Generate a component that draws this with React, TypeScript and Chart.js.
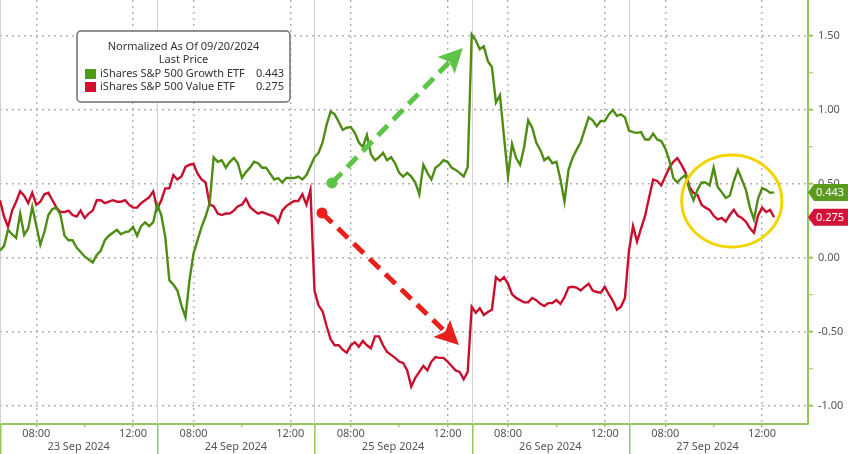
import React, { useEffect, useRef } from 'react';
import { Chart, registerables } from 'chart.js';

Chart.register(...registerables);

// ---- categories / axis labels ----
const dayLabels = ['23 Sep 2024', '24 Sep 2024', '25 Sep 2024', '26 Sep 2024', '27 Sep 2024'];
const sessionOpenHour = 6.5; // sessions drawn 06:30 - 13:00 local
const sessionLength = 6.5; // hours per session
const sampleStepHours = 1 / 6; // one reading every 10 minutes
const timeTickHours = [8, 10, 12];
const timeTickLabels = ['08:00', '', '12:00'];
const yMajorTicks = [-1, -0.5, 0, 0.5, 1, 1.5];
const yMinorTicks = [-0.75, -0.25, 0.25, 0.75, 1.25];
const xMaxHours = 33.4;
const yMin = -1.122;
const yMax = 1.743;

const seriesNames = ['iShares S&P 500 Growth ETF', 'iShares S&P 500 Value ETF'];
const lastPrices = [0.443, 0.275];
const legendTitle = 'Normalized As Of 09/20/2024';
const legendSubtitle = 'Last Price';

// ---- iShares S&P 500 Growth ETF (normalized) ----
const growth23Sep = [0.05, 0.08, 0.19, 0.16, 0.135, 0.30, 0.155, 0.20, 0.345, 0.22, 0.09, 0.175, 0.29, 0.33, 0.34, 0.29, 0.15, 0.12, 0.12, 0.07, 0.04, 0.01, -0.01, -0.03, 0.02, 0.05, 0.12, 0.15, 0.17, 0.19, 0.16, 0.175, 0.18, 0.21, 0.15, 0.215, 0.24, 0.215, 0.24];
const growth24Sep = [0.36, 0.29, 0.14, -0.15, -0.18, -0.22, -0.32, -0.40, -0.15, 0.03, 0.12, 0.21, 0.28, 0.37, 0.68, 0.65, 0.66, 0.61, 0.65, 0.675, 0.64, 0.54, 0.58, 0.61, 0.65, 0.64, 0.61, 0.61, 0.57, 0.53, 0.54, 0.51, 0.54, 0.54, 0.54, 0.55, 0.53, 0.56, 0.62];
const growth25Sep = [0.68, 0.71, 0.78, 0.90, 0.99, 0.97, 0.92, 0.865, 0.88, 0.885, 0.845, 0.78, 0.75, 0.83, 0.70, 0.66, 0.68, 0.71, 0.66, 0.68, 0.64, 0.575, 0.55, 0.575, 0.55, 0.51, 0.43, 0.63, 0.575, 0.53, 0.61, 0.63, 0.66, 0.65, 0.61, 0.595, 0.575, 0.55, 0.615];
const growth26Sep = [1.51, 1.47, 1.41, 1.43, 1.33, 1.29, 1.05, 1.10, 0.82, 0.55, 0.77, 0.675, 0.63, 0.75, 0.93, 0.88, 0.78, 0.73, 0.66, 0.68, 0.64, 0.65, 0.53, 0.38, 0.595, 0.675, 0.73, 0.78, 0.865, 0.95, 0.93, 0.89, 0.925, 0.925, 0.97, 1.0, 0.96, 0.97, 0.95];
const growth27Sep = [0.86, 0.85, 0.845, 0.85, 0.80, 0.80, 0.84, 0.80, 0.79, 0.74, 0.66, 0.54, 0.51, 0.54, 0.56, 0.46, 0.39, 0.46, 0.51, 0.51, 0.49, 0.61, 0.48, 0.445, 0.405, 0.42, 0.52, 0.595, 0.53, 0.46, 0.34, 0.26, 0.40, 0.47, 0.46, 0.44, 0.443];

// ---- iShares S&P 500 Value ETF (normalized) ----
const value23Sep = [0.39, 0.28, 0.21, 0.32, 0.38, 0.45, 0.42, 0.37, 0.44, 0.36, 0.38, 0.43, 0.44, 0.39, 0.34, 0.31, 0.31, 0.32, 0.29, 0.28, 0.32, 0.27, 0.30, 0.32, 0.39, 0.39, 0.37, 0.38, 0.39, 0.38, 0.38, 0.39, 0.36, 0.34, 0.34, 0.37, 0.39, 0.41, 0.45];
const value24Sep = [0.33, 0.39, 0.47, 0.47, 0.56, 0.53, 0.55, 0.615, 0.63, 0.635, 0.57, 0.53, 0.51, 0.36, 0.35, 0.30, 0.29, 0.30, 0.30, 0.32, 0.35, 0.36, 0.40, 0.345, 0.32, 0.30, 0.31, 0.30, 0.29, 0.28, 0.24, 0.32, 0.35, 0.37, 0.385, 0.385, 0.43, 0.36, 0.46];
const value25Sep = [-0.22, -0.32, -0.36, -0.46, -0.55, -0.59, -0.59, -0.62, -0.64, -0.59, -0.57, -0.60, -0.56, -0.59, -0.61, -0.53, -0.53, -0.59, -0.635, -0.655, -0.675, -0.70, -0.71, -0.76, -0.87, -0.81, -0.77, -0.73, -0.76, -0.70, -0.67, -0.675, -0.675, -0.70, -0.73, -0.76, -0.77, -0.82, -0.77];
const value26Sep = [-0.33, -0.37, -0.34, -0.385, -0.365, -0.35, -0.13, -0.155, -0.13, -0.175, -0.245, -0.27, -0.285, -0.30, -0.30, -0.27, -0.285, -0.31, -0.325, -0.305, -0.305, -0.285, -0.31, -0.265, -0.20, -0.195, -0.20, -0.22, -0.195, -0.175, -0.22, -0.23, -0.235, -0.195, -0.245, -0.29, -0.35, -0.33, -0.27];
const value27Sep = [0.05, 0.215, 0.11, 0.20, 0.285, 0.41, 0.53, 0.52, 0.49, 0.55, 0.61, 0.65, 0.675, 0.63, 0.58, 0.48, 0.44, 0.425, 0.36, 0.34, 0.325, 0.285, 0.26, 0.27, 0.245, 0.29, 0.325, 0.285, 0.27, 0.245, 0.20, 0.17, 0.285, 0.34, 0.31, 0.325, 0.275];

const growthByDay = [growth23Sep, growth24Sep, growth25Sep, growth26Sep, growth27Sep];
const valueByDay = [value23Sep, value24Sep, value25Sep, value26Sep, value27Sep];

// ---- annotation anchors, in data units (x: session hours since first open, y: normalized) ----
const greenArrowFrom = [13.72, 0.507];
const greenArrowTo = [19.13, 1.418];
const redArrowFrom = [13.31, 0.304];
const redArrowTo = [18.97, -0.588];
const ellipseCenter = [30.25, 0.385];
const ellipseRadius = [2.07, 0.311];

// ---- styles ----
const FONT = '"Noto Sans", "DejaVu Sans", sans-serif';
const GREEN = '#4e8c14';
const RED = '#c8102e';
const AXIS_GREEN = '#93c85a';
const GRID = '#b0b0b0';

function toPoints(byDay: number[][]) {
  const pts: { x: number; y: number }[] = [];
  byDay.forEach((vals, d) => {
    vals.forEach((v, i) => pts.push({ x: d * sessionLength + i * sampleStepHours, y: v }));
  });
  return pts;
}

const timeTickValues: number[] = [];
const timeTickText: string[] = [];
dayLabels.forEach((_, d) => {
  timeTickHours.forEach((h, k) => {
    timeTickValues.push(d * sessionLength + (h - sessionOpenHour));
    timeTickText.push(timeTickLabels[k]);
  });
});
const dayMidValues = dayLabels.map((_, d) => d * sessionLength + sessionLength / 2);

function drawArrow(ctx: CanvasRenderingContext2D, x1: number, y1: number, x2: number, y2: number, color: string) {
  const ang = Math.atan2(y2 - y1, x2 - x1);
  const headLen = 24;
  const headW = 12;
  const bx = x2 - headLen * Math.cos(ang);
  const by = y2 - headLen * Math.sin(ang);
  ctx.save();
  ctx.strokeStyle = color;
  ctx.fillStyle = color;
  ctx.lineWidth = 5;
  ctx.setLineDash([14, 8]);
  ctx.beginPath();
  ctx.moveTo(x1, y1);
  ctx.lineTo(bx + 4 * Math.cos(ang), by + 4 * Math.sin(ang));
  ctx.stroke();
  ctx.setLineDash([]);
  ctx.beginPath();
  ctx.arc(x1, y1, 5.5, 0, Math.PI * 2);
  ctx.fill();
  ctx.beginPath();
  ctx.moveTo(x2, y2);
  ctx.lineTo(bx + headW * Math.sin(ang), by - headW * Math.cos(ang));
  ctx.lineTo(bx + 5 * Math.cos(ang), by + 5 * Math.sin(ang));
  ctx.lineTo(bx - headW * Math.sin(ang), by + headW * Math.cos(ang));
  ctx.closePath();
  ctx.fill();
  ctx.restore();
}

function drawTag(ctx: CanvasRenderingContext2D, xLeft: number, xRight: number, y: number, text: string, color: string) {
  const h = 17;
  const notch = 6;
  ctx.save();
  ctx.fillStyle = color;
  ctx.beginPath();
  ctx.moveTo(xLeft, y);
  ctx.lineTo(xLeft + notch, y - h / 2);
  ctx.lineTo(xRight, y - h / 2);
  ctx.lineTo(xRight, y + h / 2);
  ctx.lineTo(xLeft + notch, y + h / 2);
  ctx.closePath();
  ctx.fill();
  ctx.fillStyle = '#ffffff';
  ctx.font = `11px ${FONT}`;
  ctx.textAlign = 'left';
  ctx.textBaseline = 'middle';
  ctx.fillText(text, xLeft + notch + 2, y + 0.5);
  ctx.restore();
}

const overlayPlugin = {
  id: 'overlay',
  beforeDatasetsDraw(chart: any) {
    const { ctx, chartArea, scales } = chart;
    ctx.save();
    ctx.strokeStyle = '#d2d2d2';
    ctx.lineWidth = 1;
    dayLabels.forEach((_, d) => {
      const x = Math.round(scales.x.getPixelForValue(d * sessionLength)) + 0.5;
      ctx.beginPath();
      ctx.moveTo(x, chartArea.top);
      ctx.lineTo(x, chartArea.bottom);
      ctx.stroke();
    });
    ctx.restore();
  },
  afterDatasetsDraw(chart: any) {
    const { ctx, scales } = chart;
    const px = (v: number[]) => [scales.x.getPixelForValue(v[0]), scales.y.getPixelForValue(v[1])];
    const [gx1, gy1] = px(greenArrowFrom);
    const [gx2, gy2] = px(greenArrowTo);
    const [rx1, ry1] = px(redArrowFrom);
    const [rx2, ry2] = px(redArrowTo);
    drawArrow(ctx, gx1, gy1, gx2, gy2, '#5ec447');
    drawArrow(ctx, rx1, ry1, rx2, ry2, '#e8201c');
    const [ex, ey] = px(ellipseCenter);
    const erx = scales.x.getPixelForValue(ellipseCenter[0] + ellipseRadius[0]) - ex;
    const ery = ey - scales.y.getPixelForValue(ellipseCenter[1] + ellipseRadius[1]);
    ctx.save();
    ctx.strokeStyle = '#f2d500';
    ctx.lineWidth = 3;
    ctx.beginPath();
    ctx.ellipse(ex, ey, erx, ery, 0, 0, Math.PI * 2);
    ctx.stroke();
    ctx.restore();
  },
  afterDraw(chart: any) {
    const { ctx, chartArea, scales, height, width } = chart;
    // session separators through the axis strip
    ctx.save();
    ctx.strokeStyle = AXIS_GREEN;
    ctx.lineWidth = 1.5;
    dayLabels.forEach((_, d) => {
      const x = Math.round(scales.x.getPixelForValue(d * sessionLength)) + 0.75;
      ctx.beginPath();
      ctx.moveTo(x, chartArea.bottom);
      ctx.lineTo(x, height);
      ctx.stroke();
    });
    ctx.restore();

    // last-price tags
    drawTag(ctx, chartArea.right, width, scales.y.getPixelForValue(lastPrices[0]), lastPrices[0].toFixed(3), '#5a9a1e');
    drawTag(ctx, chartArea.right, width, scales.y.getPixelForValue(lastPrices[1]), lastPrices[1].toFixed(3), '#d3123a');

    // legend box
    const bx = 77, by = 31, bw = 213, bh = 71;
    ctx.save();
    ctx.fillStyle = '#ffffff';
    ctx.strokeStyle = '#6e6e6e';
    ctx.lineWidth = 1.5;
    ctx.beginPath();
    (ctx as any).roundRect(bx, by, bw, bh, 4);
    ctx.fill();
    ctx.stroke();
    ctx.fillStyle = '#333333';
    ctx.font = `11px ${FONT}`;
    ctx.textBaseline = 'middle';
    ctx.textAlign = 'center';
    ctx.fillText(legendTitle, bx + bw / 2, by + 16);
    ctx.fillText(legendSubtitle, bx + bw / 2, by + 29);
    const rowColors = ['#4f9a12', '#d0102c'];
    seriesNames.forEach((name, k) => {
      const ry = by + 43 + k * 13;
      ctx.fillStyle = rowColors[k];
      ctx.fillRect(bx + 8, ry - 5, 11, 10);
      ctx.fillStyle = '#333333';
      ctx.textAlign = 'left';
      ctx.fillText(name, bx + 23, ry);
      ctx.textAlign = 'right';
      ctx.fillText(lastPrices[k].toFixed(3), bx + bw - 6, ry);
    });
    ctx.restore();
  },
};

export default function App() {
  const canvasRef = useRef<HTMLCanvasElement | null>(null);

  useEffect(() => {
    const canvas = canvasRef.current;
    if (!canvas) return;
    const chart = new Chart(canvas, {
      type: 'line',
      data: {
        datasets: [
          {
            label: seriesNames[0],
            data: toPoints(growthByDay),
            borderColor: GREEN,
            borderWidth: 2.4,
            pointRadius: 0,
            tension: 0,
          },
          {
            label: seriesNames[1],
            data: toPoints(valueByDay),
            borderColor: RED,
            borderWidth: 2.4,
            pointRadius: 0,
            tension: 0,
          },
        ],
      },
      options: {
        animation: false,
        responsive: false,
        events: [],
        parsing: false as any,
        layout: { padding: 0 },
        plugins: { legend: { display: false }, tooltip: { enabled: false } },
        scales: {
          x: {
            type: 'linear',
            position: 'bottom',
            weight: 0,
            min: 0,
            max: xMaxHours,
            afterBuildTicks: (ax: any) => {
              ax.ticks = timeTickValues.map((v) => ({ value: v }));
            },
            afterFit: (ax: any) => {
              ax.height = 14;
              ax.paddingLeft = 0;
              ax.paddingRight = 0;
            },
            ticks: {
              autoSkip: false,
              maxRotation: 0,
              minRotation: 0,
              padding: 0,
              color: '#555555',
              font: { family: FONT, size: 11 },
              callback: (_v: any, i: number) => timeTickText[i],
            },
            grid: {
              color: (c: any) => (timeTickText[c.index] ? GRID : 'rgba(0,0,0,0)'),
              lineWidth: 1.4,
              tickColor: AXIS_GREEN,
              tickLength: 3,
              tickWidth: 1.5,
            },
            border: { color: AXIS_GREEN, width: 2, dash: [2, 4] },
          },
          x2: {
            type: 'linear',
            position: 'bottom',
            weight: 1,
            min: 0,
            max: xMaxHours,
            afterBuildTicks: (ax: any) => {
              ax.ticks = dayMidValues.map((v) => ({ value: v }));
            },
            afterFit: (ax: any) => {
              ax.height = 16;
              ax.paddingLeft = 0;
              ax.paddingRight = 0;
            },
            ticks: {
              autoSkip: false,
              maxRotation: 0,
              minRotation: 0,
              padding: 2,
              color: '#555555',
              font: { family: FONT, size: 11 },
              callback: (_v: any, i: number) => dayLabels[i],
            },
            grid: { display: false, drawTicks: false },
            border: { display: false },
          },
          y: {
            type: 'linear',
            position: 'right',
            min: yMin,
            max: yMax,
            afterBuildTicks: (ax: any) => {
              ax.ticks = [...yMajorTicks, ...yMinorTicks].sort((a, b) => a - b).map((v) => ({ value: v }));
            },
            afterFit: (ax: any) => {
              ax.width = 40;
              ax.paddingTop = 0;
              ax.paddingBottom = 0;
            },
            ticks: {
              padding: 5,
              color: '#555555',
              font: { family: FONT, size: 11 },
              callback: (v: any) => (yMajorTicks.includes(v) ? Number(v).toFixed(2) : ''),
            },
            grid: {
              color: (c: any) => (c.tick && yMajorTicks.includes(c.tick.value) ? GRID : 'rgba(0,0,0,0)'),
              lineWidth: 1.4,
              tickColor: AXIS_GREEN,
              tickLength: 5,
              tickWidth: (c: any) => (c.tick && yMajorTicks.includes(c.tick.value) ? 2 : 1),
            },
            border: { color: AXIS_GREEN, width: 2, dash: [2, 4] },
          },
        },
      },
      plugins: [overlayPlugin],
    } as any);
    return () => chart.destroy();
  }, []);

  return (
    <div style={{ position: 'absolute', left: 0, top: 0, width: 848, height: 454, background: '#ffffff' }}>
      <canvas ref={canvasRef} width={848} height={454} style={{ display: 'block', width: 848, height: 454 }} />
    </div>
  );
}
